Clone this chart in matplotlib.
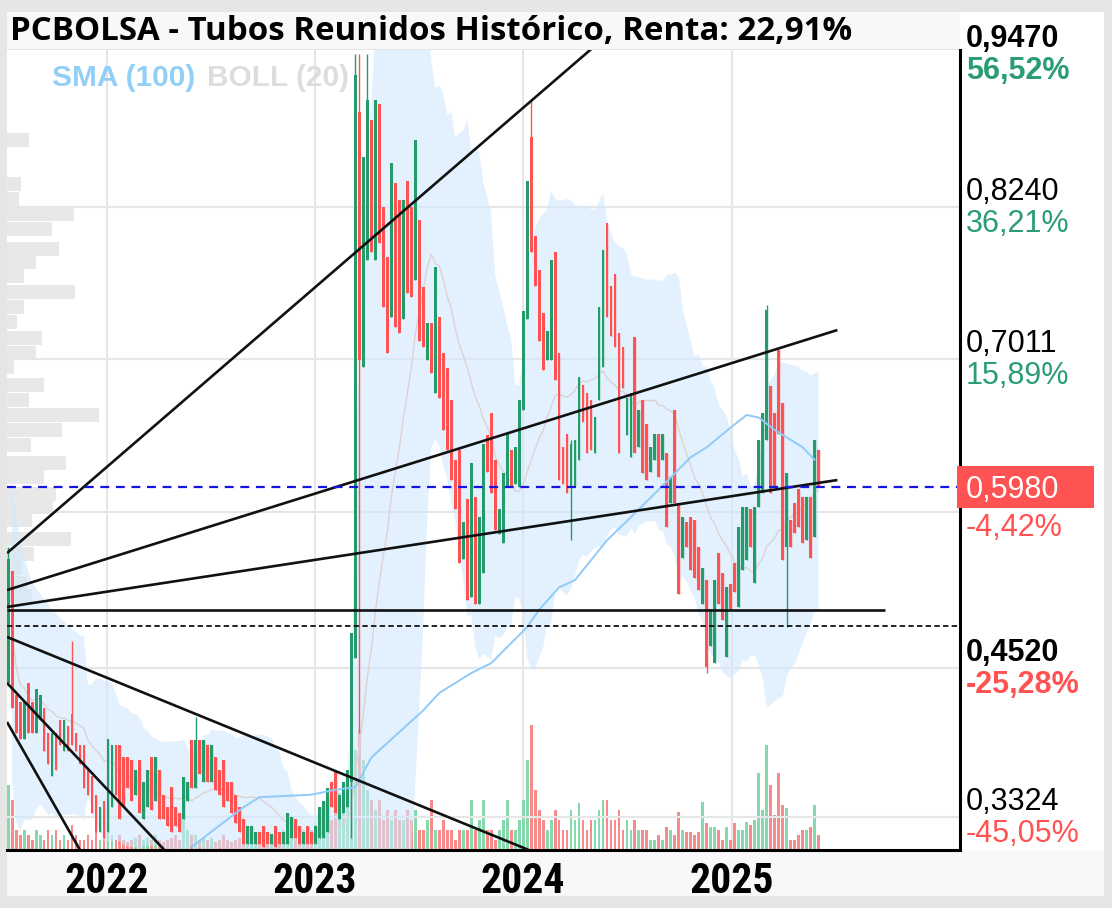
import matplotlib
matplotlib.use("Agg")
import matplotlib.pyplot as plt
from matplotlib.patches import Rectangle
import numpy as np
import pandas as pd

# velas semanales (apertura / cierre), desde 2021-07-12
opens = [0.44, 0.53, 0.43, 0.425, 0.395, 0.44, 0.425, 0.40, 0.41, 0.42,
         0.40, 0.365, 0.40, 0.41, 0.385, 0.405, 0.415, 0.40, 0.39, 0.39,
         0.37, 0.365, 0.35, 0.32, 0.345, 0.32, 0.34, 0.39, 0.39, 0.38,
         0.38, 0.378, 0.35, 0.378, 0.33, 0.34, 0.38, 0.345, 0.37, 0.35,
         0.34, 0.356, 0.34, 0.335, 0.33, 0.345, 0.394, 0.355, 0.394, 0.36,
         0.39, 0.36, 0.38, 0.37, 0.378, 0.36, 0.36, 0.35, 0.34, 0.33,
         0.31, 0.31, 0.31, 0.32, 0.325, 0.32, 0.31, 0.325, 0.32, 0.31,
         0.31, 0.315, 0.33, 0.325, 0.31, 0.325, 0.32, 0.31, 0.315, 0.315,
         0.32, 0.36, 0.368, 0.33, 0.335, 0.34, 0.36, 0.46, 0.90, 0.695,
         0.781, 0.894, 0.781, 0.907, 0.824, 0.783, 0.735, 0.843, 0.829, 0.733,
         0.845, 0.824, 0.765, 0.813, 0.759, 0.70, 0.73, 0.674, 0.735, 0.706,
         0.694, 0.668, 0.62, 0.628, 0.54, 0.588, 0.509, 0.590, 0.504, 0.529,
         0.64, 0.658, 0.620, 0.56, 0.553, 0.598, 0.628, 0.60, 0.598, 0.66,
         0.733, 0.88, 0.80, 0.773, 0.738, 0.700, 0.700, 0.787, 0.706, 0.63,
         0.641, 0.598, 0.598, 0.620, 0.68, 0.674, 0.668, 0.625, 0.668, 0.695,
         0.811, 0.76, 0.770, 0.722, 0.711, 0.64, 0.622, 0.719, 0.63, 0.668,
         0.649, 0.61, 0.620, 0.641, 0.620, 0.625, 0.585, 0.660, 0.585, 0.541,
         0.57, 0.574, 0.571, 0.550, 0.504, 0.523, 0.47, 0.456, 0.545, 0.529,
         0.461, 0.52, 0.537, 0.501, 0.531, 0.539, 0.58, 0.521, 0.582, 0.593,
         0.636, 0.679, 0.658, 0.708, 0.666, 0.550, 0.571, 0.585, 0.596, 0.590,
         0.555, 0.590, 0.558, 0.628]
closes = [0.54, 0.42, 0.40, 0.395, 0.425, 0.40, 0.40, 0.435, 0.43, 0.385,
          0.375, 0.40, 0.37, 0.39, 0.41, 0.385, 0.39, 0.385, 0.375, 0.355,
          0.35, 0.335, 0.32, 0.34, 0.315, 0.395, 0.39, 0.35, 0.33, 0.34,
          0.355, 0.345, 0.37, 0.335, 0.36, 0.37, 0.338, 0.38, 0.33, 0.33,
          0.325, 0.32, 0.325, 0.32, 0.364, 0.36, 0.355, 0.394, 0.367, 0.394,
          0.36, 0.39, 0.354, 0.35, 0.34, 0.345, 0.335, 0.327, 0.32, 0.31,
          0.325, 0.325, 0.32, 0.31, 0.308, 0.31, 0.318, 0.308, 0.31, 0.32,
          0.335, 0.332, 0.315, 0.31, 0.32, 0.31, 0.31, 0.325, 0.34, 0.345,
          0.355, 0.34, 0.335, 0.35, 0.36, 0.37, 0.48, 0.93, 0.70, 0.864,
          0.910, 0.787, 0.910, 0.795, 0.743, 0.706, 0.859, 0.727, 0.722, 0.829,
          0.754, 0.751, 0.878, 0.716, 0.711, 0.73, 0.69, 0.775, 0.670, 0.644,
          0.628, 0.604, 0.58, 0.537, 0.57, 0.507, 0.617, 0.504, 0.574, 0.633,
          0.61, 0.593, 0.563, 0.58, 0.609, 0.641, 0.598, 0.63, 0.668, 0.74,
          0.845, 0.787, 0.76, 0.716, 0.692, 0.724, 0.781, 0.684, 0.604, 0.60,
          0.593, 0.633, 0.636, 0.687, 0.65, 0.625, 0.628, 0.654, 0.743, 0.789,
          0.735, 0.72, 0.711, 0.625, 0.678, 0.67, 0.674, 0.625, 0.66, 0.609,
          0.604, 0.63, 0.641, 0.606, 0.641, 0.566, 0.606, 0.585, 0.512, 0.574,
          0.55, 0.531, 0.525, 0.515, 0.533, 0.453, 0.50, 0.523, 0.504, 0.491,
          0.517, 0.50, 0.513, 0.566, 0.582, 0.582, 0.55, 0.582, 0.636, 0.658,
          0.741, 0.593, 0.598, 0.641, 0.539, 0.609, 0.550, 0.561, 0.566, 0.553,
          0.590, 0.541, 0.636, 0.598]
volumes = [6.5, 5, 2, 1.5, 2, 1.5, 1, 2, 1.5, 1, 2, 1.5, 2, 1, 1.5, 1, 2.5, 1.5, 1, 1, 1.5, 1, 2, 1, 1.5,
           2, 1.5, 1, 1.5, 1, 0.8, 1, 1.2, 1.5, 1, 1.2, 1, 1.5, 1, 0.8, 1, 1.2, 1.5, 1, 3.7, 2, 1.5, 1.5, 1, 1.2,
           1, 1.2, 0.8, 1, 1.5, 1, 0.8, 1, 1.2, 1, 1.5, 2, 1, 0.8, 1, 1.2, 0.8, 1, 1.5, 2,
           3.7, 3.3, 1.5, 1, 2, 1.5, 2, 2.5, 3, 4.3, 6, 3, 4, 5.7, 6, 7.7,
           8, 10, 12, 9, 6, 5, 4, 5, 3, 4, 3, 4, 3, 3, 4, 3, 4, 2, 2, 3, 5, 2, 2, 3, 2,
           2, 1, 2, 2, 2, 5, 2, 3, 5, 2, 2, 1, 2, 3, 5, 2, 2, 3, 5, 9, 12.5, 6, 4, 3, 2,
           3, 4, 3, 2, 2, 4, 3, 4.7, 3, 2, 3, 3, 4, 5, 5, 3, 3, 4, 2, 3, 2, 3, 2, 2, 2,
           1, 1, 1.5, 1, 2.3, 2, 1.5, 3.8, 2, 1.8, 1.8, 1.5, 1.8, 4.8, 2.7, 2.3, 2.3, 2, 1, 2.3, 1, 2.7, 2,
           2, 2.8, 2.5, 3, 7.7, 4, 10.5, 6.5, 3.5, 7.7, 4.5, 4.2, 1, 1, 1.5, 2, 2, 2.3, 4.5, 1.5]

# mechas destacadas
wick_weeks = [0, 16, 47, 86, 87, 88, 90, 131, 141, 175, 190, 195]
wick_highs = [0.55, 0.474, 0.413, 0.48, 0.947, 0.947, 0.947, 0.91, 0.636, 0.523, 0.745, 0.609]
wick_lows = [0.44, 0.39, 0.355, 0.315, 0.46, 0.40, 0.781, 0.787, 0.555, 0.448, 0.636, 0.485]

# SMA(100)
sma_weeks = [46, 59, 63, 76, 82, 87, 91, 104, 108, 116, 121, 125, 130, 133, 138,
             142, 150, 158, 163, 167, 171, 175, 181, 185, 188, 192, 195, 199, 202]
sma_values = [0.308, 0.340, 0.348, 0.350, 0.354, 0.356, 0.380, 0.418, 0.432, 0.448,
              0.456, 0.469, 0.485, 0.499, 0.517, 0.523, 0.555, 0.580, 0.596, 0.609,
              0.622, 0.630, 0.646, 0.656, 0.654, 0.644, 0.638, 0.630, 0.620]

# perfil de volumen (precio, tamano relativo)
profile_prices = [0.878, 0.842, 0.830, 0.818, 0.806, 0.790, 0.779, 0.768, 0.755, 0.743,
                  0.731, 0.718, 0.706, 0.695, 0.680, 0.668, 0.656, 0.644, 0.632, 0.617,
                  0.606, 0.592, 0.582, 0.571, 0.556, 0.544, 0.533, 0.521, 0.510]
profile_sizes = [22, 14, 12, 67, 45, 52, 29, 17, 68, 17, 10, 35, 29, 7, 37, 22, 92, 55,
                 24, 59, 37, 49, 46, 25, 64, 27, 15, 20, 25]

# lineas de tendencia (fecha, precio) -> (fecha, precio)
trend_lines = [("2021-07-10", 0.5447, "2024-05-02", 0.952),
               ("2021-07-10", 0.5149, "2025-07-05", 0.7245),
               ("2021-07-10", 0.5013, "2025-07-05", 0.6036),
               ("2021-07-10", 0.4989, "2025-09-26", 0.4989),
               ("2021-07-10", 0.4771, "2024-01-11", 0.3054),
               ("2021-07-10", 0.4400, "2022-04-12", 0.3054),
               ("2021-07-10", 0.4086, "2021-11-15", 0.3054)]
support_dotted = 0.486
last_price = 0.598
last_pct = "-4,42%"

label_prices = [0.9470, 0.8240, 0.7011, 0.4520, 0.3324]
label_texts = ["0,9470", "0,8240", "0,7011", "0,4520", "0,3324"]
label_pcts = ["56,52%", "36,21%", "15,89%", "-25,28%", "-45,05%"]
label_bold = [True, False, False, True, False]
grid_prices = [0.3324, 0.4520, 0.5782, 0.7011, 0.8240]
years = ["2022", "2023", "2024", "2025"]

GREEN = "#239b6b"
RED = "#ff5252"
W, H = 1112, 908

fig = plt.figure(figsize=(W / 100, H / 100), dpi=100)
fig.patch.set_facecolor("#e6e6e6")


def fig_box(x0, y0, x1, y1, color):
    fig.add_artist(Rectangle((x0 / W, 1 - y1 / H), (x1 - x0) / W, (y1 - y0) / H,
                             transform=fig.transFigure, facecolor=color,
                             edgecolor="none", zorder=-10))


fig_box(7, 12, 960, 50, "#f8f8f8")
fig_box(960, 12, 1104, 850, "white")
fig_box(7, 850, 1104, 896, "#f8f8f8")
fig_box(7, 49, 960, 50, "#e4e4e4")

rect = [7 / W, 1 - 850 / H, (960 - 7) / W, 800 / H]
ax_vol = fig.add_axes(rect)
ax = fig.add_axes(rect, sharex=ax_vol)
ax_prof = ax.twiny()
ax_vol.set_zorder(0)
ax_prof.set_zorder(1)
ax.set_zorder(2)
ax.patch.set_visible(False)
ax_prof.patch.set_visible(False)
ax_vol.set_facecolor("white")

dates = pd.date_range("2021-07-12", periods=len(closes), freq="7D")
o = np.array(opens)
c = np.array(closes)
up = c >= o
hi = np.maximum(o, c)
lo = np.minimum(o, c)
for k, h, l in zip(wick_weeks, wick_highs, wick_lows):
    hi[k] = max(hi[k], h)
    lo[k] = min(lo[k], l)
cols = np.where(up, GREEN, RED)

# volumen
vcols = np.where(up, "#86d9ad", "#f78a8a")
ax_vol.bar(dates, volumes, width=5, color=vcols, zorder=2)
ax_vol.set_ylim(0, 80)
ax_vol.set_yticks([])
for y in years:
    ax_vol.axvline(pd.Timestamp(y + "-01-01"), color="#e6e6e6", lw=1.5, zorder=0)

# perfil de volumen
ax_prof.barh(profile_prices, profile_sizes, height=0.0112, left=0, color="#e8e8e8", zorder=0)
ax_prof.set_xlim(0, 953)
ax_prof.set_xticks([])

# bollinger
s = pd.Series(closes)
mid = s.rolling(20, min_periods=2).mean()
sd = s.rolling(20, min_periods=2).std(ddof=0)
ax.fill_between(dates, mid - 2 * sd, mid + 2 * sd, color="#cfe8fc", alpha=0.6, lw=0, zorder=1)
ax.plot(dates, mid, color="#ddd2d2", lw=1, zorder=2)

for p in grid_prices:
    ax.axhline(p, color="#e6e6e6", lw=1.5, zorder=0)

# velas
ax.vlines(dates, lo, hi, color=cols, lw=1, zorder=4)
ax.bar(dates, np.abs(c - o), bottom=np.minimum(o, c), width=5, color=cols, zorder=5)

# SMA
ax.plot(dates[sma_weeks], sma_values, color="#90caf9", lw=1.4, zorder=6)

for d0, p0, d1, p1 in trend_lines:
    ax.plot([pd.Timestamp(d0), pd.Timestamp(d1)], [p0, p1], color="#111111", lw=1.9,
            solid_capstyle="butt", zorder=8)
ax.axhline(support_dotted, color="#111111", lw=1.3, dashes=(3, 1.8), zorder=8)
ax.axhline(last_price, color="#1414e6", lw=1.6, dashes=(4, 3), zorder=8)

ax.set_ylim(0.3054, 0.9502)
ax.set_xlim(pd.Timestamp("2021-07-10"), pd.Timestamp("2026-02-05"))
ax.set_yticks([])
ax.set_xticks([pd.Timestamp(y + "-01-01") for y in years])
ax.set_xticklabels(years)
ax.tick_params(axis="x", length=0, pad=8)
for t in ax.get_xticklabels():
    t.set_fontfamily(["Arial Narrow", "Liberation Sans Narrow", "Roboto Condensed",
                      "Barlow Condensed", "DejaVu Sans"])
    t.set_fontweight("bold")
    t.set_fontsize(30)
ax_vol.tick_params(axis="x", length=0, labelbottom=False)

for a in (ax_vol, ax_prof):
    for sp in a.spines.values():
        sp.set_visible(False)
for name, sp in ax.spines.items():
    sp.set_visible(name in ("bottom", "right"))
    sp.set_color("black")
    sp.set_linewidth(2.2)

# etiquetas de precio a la derecha
ytr = ax.get_yaxis_transform()
for p, txt, pct, b in zip(label_prices, label_texts, label_pcts, label_bold):
    w = "bold" if b else "normal"
    pc = RED if pct.startswith("-") else "#2a9d72"
    ax.annotate(txt, xy=(1, p), xycoords=ytr, xytext=(6, 7), textcoords="offset pixels",
                ha="left", va="baseline", fontsize=22, fontweight=w, color="black",
                family="Liberation Sans", annotation_clip=False)
    ax.annotate(pct, xy=(1, p), xycoords=ytr, xytext=(6, -25), textcoords="offset pixels",
                ha="left", va="baseline", fontsize=22, fontweight=w, color=pc,
                family="Liberation Sans", annotation_clip=False)

ax.add_patch(Rectangle((-3 / 953 + 1, last_price - 0.0169), 137 / 953, 0.0338,
                       transform=ytr, facecolor=RED, edgecolor="none",
                       clip_on=False, zorder=20))
ax.annotate("0,5980", xy=(1, last_price), xycoords=ytr, xytext=(6, -11),
            textcoords="offset pixels", ha="left", va="baseline", fontsize=22,
            color="white", family="Liberation Sans", annotation_clip=False, zorder=21)
ax.annotate(last_pct, xy=(1, last_price), xycoords=ytr, xytext=(6, -49),
            textcoords="offset pixels", ha="left", va="baseline", fontsize=22,
            color=RED, family="Liberation Sans", annotation_clip=False)

fig.text(10 / W, 1 - 40 / H, "PCBOLSA - Tubos Reunidos Histórico, Renta: 22,91%",
         family="Open Sans", fontweight="bold", fontsize=23.8, color="black", va="baseline")
fig.text(52 / W, 1 - 86 / H, "SMA (100)", family="Liberation Sans", fontweight="bold",
         fontsize=21.5, color="#92cff7", va="baseline", zorder=30)
fig.text(207 / W, 1 - 86 / H, "BOLL (20)", family="Liberation Sans", fontweight="bold",
         fontsize=21.5, color="#dddddd", va="baseline", zorder=30)

fig.savefig("out.png", dpi=100, facecolor=fig.get_facecolor())
